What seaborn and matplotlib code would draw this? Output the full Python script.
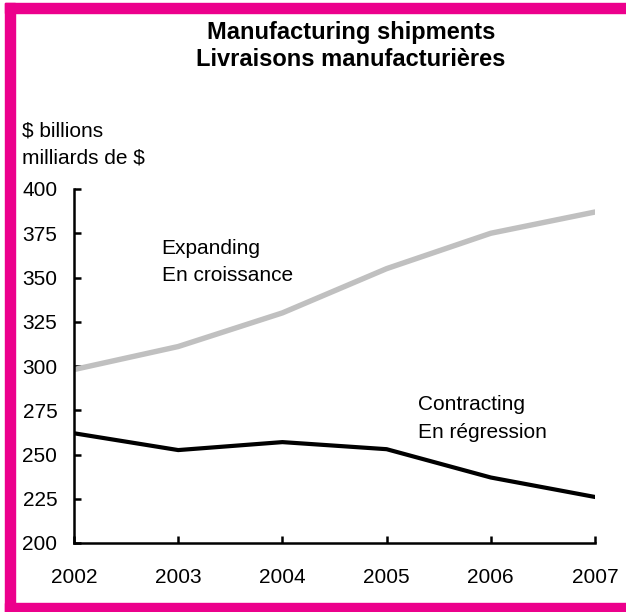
import matplotlib
matplotlib.use("Agg")
import matplotlib.pyplot as plt
from matplotlib.patches import Rectangle
import pandas as pd
import seaborn as sns

years = [2002, 2003, 2004, 2005, 2006, 2007]
expanding = [298, 311, 330, 355, 375, 387]
contracting = [262, 252.5, 257, 253, 237, 226]
y_ticks = [200, 225, 250, 275, 300, 325, 350, 375, 400]

title_lines = ["Manufacturing shipments", "Livraisons manufacturières"]
unit_lines = ["$ billions", "milliards de $"]
expanding_label = ["Expanding", "En croissance"]
contracting_label = ["Contracting", "En régression"]

sns.set_style("ticks")
plt.rcParams["font.family"] = ["Liberation Sans", "DejaVu Sans"]
plt.rcParams["text.color"] = "black"

df = pd.DataFrame({
    "year": years * 2,
    "value": expanding + contracting,
    "series": ["expanding"] * len(years) + ["contracting"] * len(years),
})

W, H = 626, 612
FS = 15
fig = plt.figure(figsize=(W / 100, H / 100), dpi=100)
ax = fig.add_axes([74 / W, 1 - 543 / H, (595 - 74) / W, (543 - 189) / H])

sns.lineplot(data=df[df.series == "expanding"], x="year", y="value", color="#c0c0c0",
             linewidth=3.9, ax=ax, legend=False)
sns.lineplot(data=df[df.series == "contracting"], x="year", y="value", color="#000000",
             linewidth=3.0, ax=ax, legend=False)

ax.set_xlim(2002, 2007)
ax.set_ylim(200, 400)
ax.set_xticks(years)
ax.set_xticklabels([str(y) for y in years])
ax.set_yticks(y_ticks)
ax.set_xlabel("")
ax.set_ylabel("")
for side in ("top", "right"):
    ax.spines[side].set_visible(False)
for side in ("left", "bottom"):
    ax.spines[side].set_linewidth(1.8)
    ax.spines[side].set_color("black")
ax.tick_params(axis="both", direction="in", length=5, width=1.8, colors="black",
               labelsize=FS, labelcolor="black")
ax.tick_params(axis="x", pad=18)
ax.tick_params(axis="y", pad=12)

ax.text(2002.84, 366.5, expanding_label[0], fontsize=FS, va="center", ha="left", color="black")
ax.text(2002.84, 351.3, expanding_label[1], fontsize=FS, va="center", ha="left", color="black")
ax.text(2005.30, 278.0, contracting_label[0], fontsize=FS, va="center", ha="left", color="black")
ax.text(2005.30, 262.7, contracting_label[1], fontsize=FS, va="center", ha="left", color="black")

fig.text(351 / W, 1 - 33 / H, title_lines[0], fontsize=17, fontweight="bold",
         ha="center", va="center", color="black")
fig.text(351 / W, 1 - 60 / H, title_lines[1], fontsize=17, fontweight="bold",
         ha="center", va="center", color="black")
fig.text(22 / W, 1 - 131 / H, unit_lines[0], fontsize=FS, ha="left", va="center", color="black")
fig.text(22 / W, 1 - 158 / H, unit_lines[1], fontsize=FS, ha="left", va="center", color="black")

magenta = "#ec008c"
fig.patches.append(Rectangle((5 / W, 0), 10 / W, 1 - 3 / H, transform=fig.transFigure,
                             color=magenta, zorder=0))
fig.patches.append(Rectangle((5 / W, 1 - 13 / H), 1 - 5 / W, 10 / H, transform=fig.transFigure,
                             color=magenta, zorder=0))
fig.patches.append(Rectangle((5 / W, 0), 1 - 5 / W, 9 / H, transform=fig.transFigure,
                             color=magenta, zorder=0))

fig.savefig("out.png", dpi=100)
